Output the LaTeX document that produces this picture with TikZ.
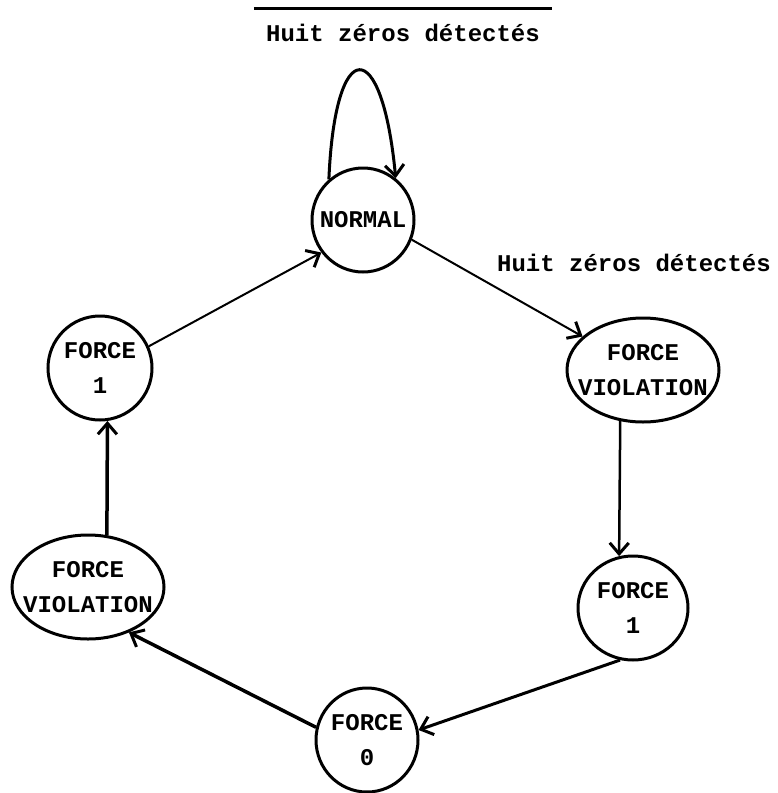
\documentclass[tikz,border=0pt]{standalone}
\usepackage{fontspec}
\setmonofont{Liberation Mono}
\usetikzlibrary{arrows.meta,shapes.geometric}

\begin{document}
\begin{tikzpicture}[x=1pt, y=-1pt,
    st/.style={shape=ellipse, draw, line width=3pt, inner sep=-20pt,
      font=\ttfamily\bfseries\fontsize{24}{35}\selectfont, align=center},
    lbl/.style={font=\ttfamily\bfseries\fontsize{24}{28}\selectfont, inner xsep=12pt},
    >={Straight Barb[length=11pt,width=19pt,line width=3pt]}]
    \useasboundingbox (0,0) rectangle (777,793);
    \node [st, minimum width=102pt, minimum height=104pt] (normal) at (363,220) {NORMAL};
    \node [st, minimum width=152pt, minimum height=104pt] (fvr) at (643,370) {FORCE\\VIOLATION};
    \node [st, minimum width=110pt, minimum height=104pt] (f1r) at (633,608) {FORCE\\1};
    \node [st, minimum width=102pt, minimum height=104pt] (f0) at (367,740) {FORCE\\0};
    \node [st, minimum width=152pt, minimum height=104pt] (fvl) at (88,587) {FORCE\\VIOLATION};
    \node [st, minimum width=104pt, minimum height=104pt] (f1l) at (100,368) {FORCE\\1};
    \node [lbl] (top) at (403,33) {Huit zéros détectés};
    \node [lbl, inner xsep=0pt] (side) at (634,263) {Huit zéros détectés};
    \draw [line width=3pt] ([yshift=12pt]top.north west) -- ([yshift=12pt]top.north east);
    % boucle
    \draw [->, line width=3pt] (normal.130) .. controls (335,34) and (382,34) .. (normal.52);
    \draw [->, line width=2pt] (normal.-22) -- (fvr.151);
    \draw [->, line width=2.5pt] (fvr.246) -- (f1r.105);
    \draw [->, line width=3pt] (f1r.256) -- (f0.11);
    \draw [->, line width=3.5pt] (f0.166) -- (fvl.312);
    \draw [->, line width=3.5pt] (fvl.70) -- (f1l.278);
    \draw [->, line width=2pt] (f1l.24) -- (normal.218);
\end{tikzpicture}
\end{document}
